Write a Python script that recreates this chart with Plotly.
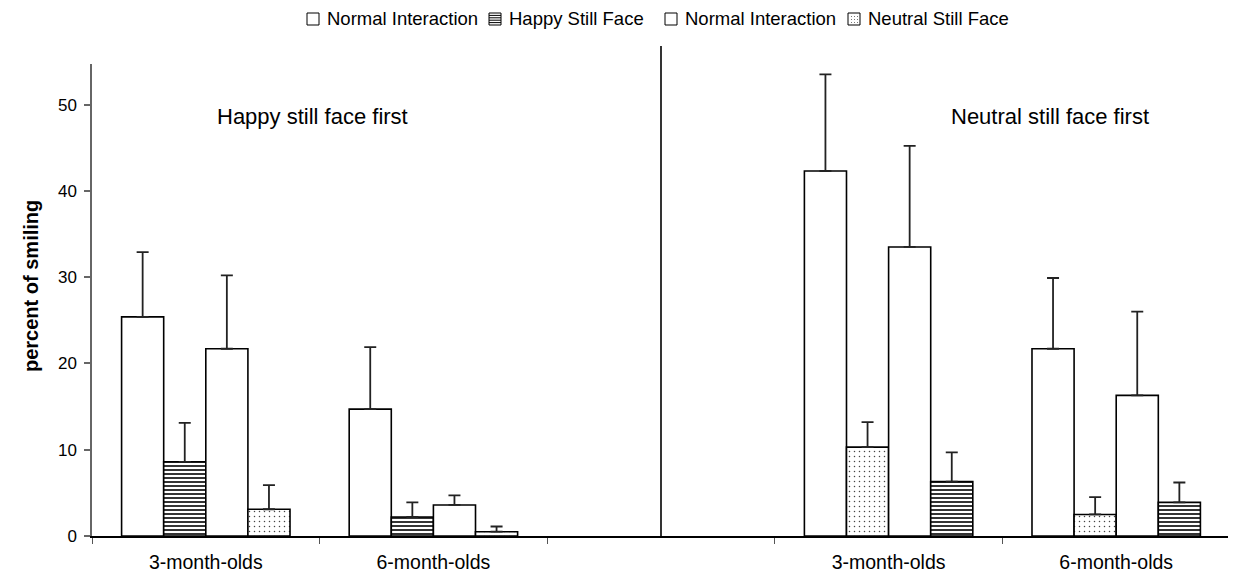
import plotly.graph_objects as go

# ---------------- Data ----------------
categories = ["3-month-olds", "6-month-olds", "", "3-month-olds", "6-month-olds"]
x_pos = [0, 1, 2, 3, 4]

# Series by slot within each group (left panel: happy still face first; right: neutral first)
s1_vals = [25.4, 14.7, None, 42.3, 21.7]
s1_err = [7.5, 7.2, None, 11.2, 8.2]

s2_vals = [8.6, 2.2, None, 10.3, 2.5]
s2_err = [4.5, 1.7, None, 2.9, 2.0]
s2_patterns = ["-", "-", "-", ".", "."]

s3_vals = [21.7, 3.6, None, 33.5, 16.3]
s3_err = [8.5, 1.1, None, 11.7, 9.7]

s4_vals = [3.1, 0.5, None, 6.3, 3.9]
s4_err = [2.8, 0.6, None, 3.4, 2.3]
s4_patterns = [".", ".", ".", "-", "-"]

legend_labels = ["Normal Interaction", "Happy Still Face", "Normal Interaction", "Neutral Still Face"]
legend_kinds = ["empty", "lines", "empty", "dots"]
panel_titles = ["Happy still face first", "Neutral still face first"]
y_title = "percent of smiling"

FONT = "Liberation Sans, Arial, Helvetica, sans-serif"

# ---------------- Geometry (layout only) ----------------
# The page body has an 8px default margin, so the figure is drawn 8px smaller
# and all reference pixel positions are expressed relative to the window.
OFF = 8
W, H = 1236 - OFF, 573 - OFF
PLOT_L, PLOT_R, PLOT_T, PLOT_B = 92, 1230, 64, 536  # reference window pixels
L = PLOT_L - OFF
T = PLOT_T - OFF
R = W - (PLOT_R - OFF)
B = H - (PLOT_B - OFF)
PW, PH = PLOT_R - PLOT_L, PLOT_B - PLOT_T


def px2x(px):
    return (px - PLOT_L) / PW


def px2y(py):
    return (PLOT_B - py) / PH


def make_pattern(shapes):
    return dict(
        shape=shapes,
        size=[4 if s == "-" else 5 for s in shapes],
        solidity=[0.4 if s == "-" else 0.07 for s in shapes],
        fgcolor=["black" if s == "-" else "#444444" for s in shapes],
        bgcolor="white",
        fillmode="replace",
    )


err_style = dict(type="data", symmetric=False, color="#222222", thickness=1.8, width=6)
outline = dict(color="black", width=1.6)

fig = go.Figure()
for vals, errs, pats in [
    (s1_vals, s1_err, None),
    (s2_vals, s2_err, s2_patterns),
    (s3_vals, s3_err, None),
    (s4_vals, s4_err, s4_patterns),
]:
    marker = dict(color="white", line=outline)
    if pats:
        marker["pattern"] = make_pattern(pats)
    fig.add_trace(go.Bar(
        x=x_pos, y=vals, marker=marker, showlegend=False,
        error_y=dict(array=errs, arrayminus=[0] * len(errs), **err_style),
    ))

# panel titles
fig.add_annotation(x=0.47, y=48.6, xref="x", yref="y", text=panel_titles[0], showarrow=False,
                   font=dict(size=22, color="black", family=FONT))
fig.add_annotation(x=3.71, y=48.6, xref="x", yref="y", text=panel_titles[1], showarrow=False,
                   font=dict(size=22, color="black", family=FONT))

# y-axis title
fig.add_annotation(x=px2x(31), y=px2y(286), xref="paper", yref="paper", text="<b>%s</b>" % y_title,
                   xanchor="center", yanchor="middle",
                   textangle=-90, showarrow=False, font=dict(size=20, color="black", family=FONT))

# divider line between panels
fig.add_shape(type="line", xref="x", yref="paper", x0=2, x1=2, y0=0, y1=px2y(46),
              line=dict(color="black", width=1.6))

# ---------------- Manual legend ----------------
text_lefts = [325, 507, 683, 866]
box_size = 12
box_top = 13
for lbl, kind, tl in zip(legend_labels, legend_kinds, text_lefts):
    bx0 = tl - 18
    bx1 = bx0 + box_size
    fig.add_shape(type="rect", xref="paper", yref="paper",
                  x0=px2x(bx0), x1=px2x(bx1), y0=px2y(box_top + box_size), y1=px2y(box_top),
                  line=dict(color="black", width=1), fillcolor="white")
    if kind == "lines":
        for k in range(1, 5):
            yy = box_top + k * box_size / 5
            fig.add_shape(type="line", xref="paper", yref="paper",
                          x0=px2x(bx0), x1=px2x(bx1), y0=px2y(yy), y1=px2y(yy),
                          line=dict(color="black", width=1))
    elif kind == "dots":
        for i in range(3):
            for j in range(3):
                cx = bx0 + 3 + i * 3
                cy = box_top + 3 + j * 3
                fig.add_shape(type="rect", xref="paper", yref="paper",
                              x0=px2x(cx), x1=px2x(cx + 1), y0=px2y(cy + 1), y1=px2y(cy),
                              line=dict(width=0), fillcolor="#777777")
    fig.add_annotation(x=px2x(tl), y=px2y(19), xref="paper", yref="paper", text=lbl,
                       xanchor="left", yanchor="middle", showarrow=False,
                       font=dict(size=18.5, color="black", family=FONT))

tick_idx = [0, 1, 3, 4]
fig.update_layout(
    width=W, height=H,
    margin=dict(l=L, r=R, t=T, b=B),
    plot_bgcolor="white", paper_bgcolor="white",
    barmode="group", bargap=0.26, bargroupgap=0,
    font=dict(family=FONT, color="black"),
    showlegend=False,
    xaxis=dict(
        range=[-0.5, 4.5], automargin=False,
        tickmode="array", tickvals=[x_pos[i] for i in tick_idx], ticktext=[categories[i] for i in tick_idx],
        ticks="", showline=True, linecolor="black", linewidth=1.6,
        showgrid=False, zeroline=False, ticklabelstandoff=8,
        tickfont=dict(size=19.5, family=FONT, color="black"),
        minor=dict(tickvals=[-0.5, 0.5, 1.5, 2.5, 3.5, 4.5], ticks="outside", ticklen=6,
                   tickcolor="#555555", tickwidth=1, showgrid=False),
    ),
    yaxis=dict(
        range=[0, 54.7], automargin=False, tickvals=[0, 10, 20, 30, 40, 50],
        ticks="outside", ticklen=6, tickcolor="#666666", tickwidth=1.5,
        showline=True, linecolor="#666666", linewidth=1.5,
        showgrid=False, zeroline=False, ticklabelstandoff=4,
        tickfont=dict(size=17, family=FONT, color="black"),
    ),
)

fig.write_html("out.html")
